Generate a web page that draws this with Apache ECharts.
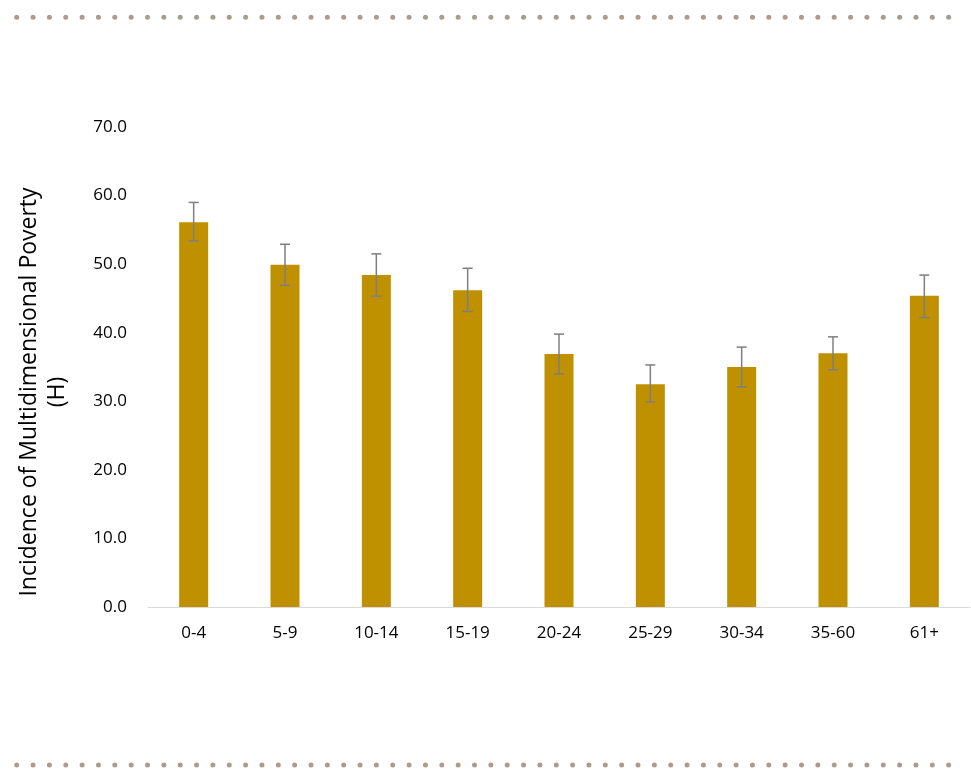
<!DOCTYPE html>
<html><head><meta charset="utf-8">
<script src="https://cdn.jsdelivr.net/npm/echarts@6/dist/echarts.min.js"></script>
<style>html,body{margin:0;padding:0;background:#fff}#c{width:971px;height:769px}</style>
</head><body><div id="c"></div>
<script>
const categories = ['0-4','5-9','10-14','15-19','20-24','25-29','30-34','35-60','61+'];
const values = [56.1, 49.9, 48.4, 46.2, 36.9, 32.5, 35.0, 37.0, 45.4];
const errLow = [53.4, 46.9, 45.3, 43.1, 34.0, 29.9, 32.1, 34.6, 42.2];
const errHigh = [59.0, 52.9, 51.5, 49.4, 39.8, 35.3, 37.9, 39.4, 48.4];
const yTicks = [0, 10, 20, 30, 40, 50, 60, 70];

const chart = echarts.init(document.getElementById('c'));
const dots = [];
for (let i = 0; i < 58; i++) {
  const x = 16.7 + i * 16.35;
  dots.push({type:'circle', shape:{cx:x, cy:17.3, r:2.5}, style:{fill:'#ab9d8d'}, silent:true});
  dots.push({type:'circle', shape:{cx:x, cy:765, r:2.5}, style:{fill:'#ab9d8d'}, silent:true});
}
chart.setOption({
  animation:false,
  textStyle:{fontFamily:'Open Sans, Liberation Sans, sans-serif'},
  graphic: dots,
  grid:{left:148, right:1, top:127, bottom:162},
  xAxis:{type:'category', data:categories,
    axisLine:{lineStyle:{color:'#d9d9d9', width:1}}, axisTick:{show:false},
    axisLabel:{color:'#000', fontSize:17, margin:18}},
  yAxis:{type:'value', min:0, max:70, interval:10,
    splitLine:{show:false}, axisLine:{show:false}, axisTick:{show:false},
    axisLabel:{color:'#000', fontSize:17, margin:21, formatter:v=>yTicks.includes(v)?v.toFixed(1):''},
    name:'Incidence of Multidimensional Poverty\n(H)', nameLocation:'middle', nameGap:77, nameRotate:90,
    nameTextStyle:{color:'#000', fontSize:23, lineHeight:28, padding:[0,50,0,0]}},
  series:[
    {type:'bar', data:values, barWidth:29, itemStyle:{color:'#BF9000'}},
    {type:'custom', data:categories.map((c,i)=>[i, errLow[i], errHigh[i]]), z:10,
      renderItem:function(params, api){
        const lo = api.coord([api.value(0), api.value(1)]);
        const hi = api.coord([api.value(0), api.value(2)]);
        const hw = 5;
        const st = {stroke:'#7f7f7f', lineWidth:1.5};
        return {type:'group', children:[
          {type:'line', shape:{x1:lo[0], y1:lo[1], x2:hi[0], y2:hi[1]}, style:st},
          {type:'line', shape:{x1:lo[0]-hw, y1:lo[1], x2:lo[0]+hw, y2:lo[1]}, style:st},
          {type:'line', shape:{x1:hi[0]-hw, y1:hi[1], x2:hi[0]+hw, y2:hi[1]}, style:st}
        ]};
      }}
  ]
});
</script></body></html>
